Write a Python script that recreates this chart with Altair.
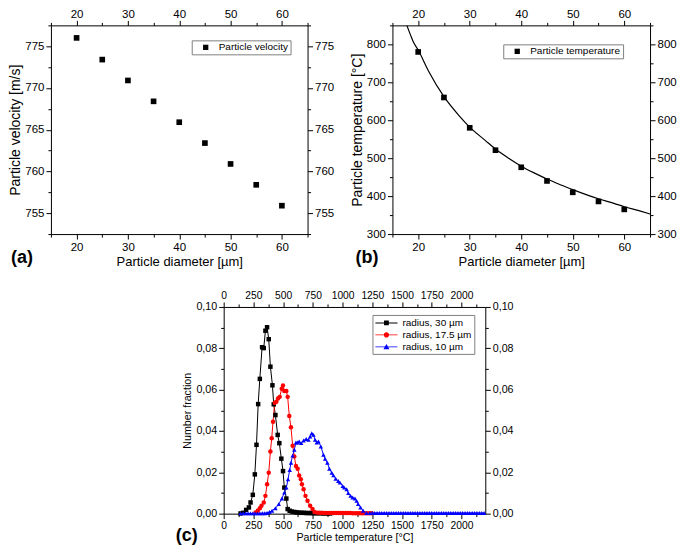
import altair as alt
import pandas as pd

FONT = "Liberation Sans"

# ---------------- panel (a) ----------------
diameter = [20, 25, 30, 35, 40, 45, 50, 55, 60]
velocity = [776.0, 773.4, 770.9, 768.4, 765.9, 763.4, 760.9, 758.4, 755.9]

# ---------------- panel (b) ----------------
temperature = [780, 660, 580, 521, 476, 440, 410, 386, 365]
fit_diameter = [17.8, 18.5, 19, 20, 22, 25, 28, 30, 33, 35, 38, 40, 43, 45, 48, 50, 53, 55, 58, 60, 63, 65]
fit_temperature = [850, 825, 808, 785, 730, 662, 611, 582, 547, 524, 496, 479, 458, 445, 428, 417, 402, 393, 381, 372, 361, 353]

# ---------------- panel (c) ----------------
series_names = ["radius, 30 µm", "radius, 17.5 µm", "radius, 10 µm"]
series_colors = ["#000000", "#ff0000", "#0000ff"]
series_shapes = ["square", "circle", "triangle-up"]

black_T = [142, 164, 189, 212, 226, 245, 262, 276, 290, 304, 323, 337, 351, 365, 379, 393, 410, 421, 435, 454,
           468, 485, 499, 510, 527, 538, 555, 574, 595, 615, 635, 655, 675, 695, 715, 735, 755, 775, 795, 815,
           835, 855, 875, 895]
black_f = [0.0001, 0.0004, 0.0018, 0.003, 0.0054, 0.0091, 0.019, 0.0333, 0.053, 0.0652, 0.0805, 0.0801, 0.0885,
           0.0902, 0.0844, 0.0711, 0.0621, 0.0529, 0.0477, 0.0381, 0.0341, 0.0266, 0.0206, 0.0126, 0.0073, 0.0022,
           0.0014, 0.0010, 0.0008, 0.0006, 0.0005, 0.0004, 0.0004, 0.0003, 0.0003, 0.0003, 0.0002, 0.0002, 0.0002,
           0.0002, 0.0001, 0.0001, 0.0001, 0.0001]

red_T = [268, 287, 304, 318, 337, 351, 365, 379, 393, 404, 415, 429, 443, 457, 471, 488, 499, 510, 527, 538,
         552, 566, 580, 594, 608, 622, 635, 649, 658, 672, 688, 705, 727, 747, 764, 785, 805, 825, 845, 865,
         885, 905, 925, 945, 965, 985, 1005, 1025, 1045, 1065, 1085, 1105, 1125, 1145, 1165, 1185, 1205, 1225, 1245]
red_f = [0.0006, 0.0014, 0.0026, 0.0038, 0.0054, 0.0086, 0.0142, 0.0198, 0.0301, 0.0365, 0.0445, 0.0536, 0.0541,
         0.0557, 0.0565, 0.0604, 0.0620, 0.0593, 0.0593, 0.0565, 0.0472, 0.0418, 0.0329, 0.0277, 0.0230, 0.0217,
         0.0185, 0.0166, 0.0142, 0.0118, 0.0086, 0.0062, 0.0038, 0.0022, 0.0008, 0.0005, 0.0004, 0.0004, 0.0003,
         0.0003, 0.0003, 0.0003, 0.0003, 0.0003, 0.0003, 0.0003, 0.0003, 0.0003, 0.0003, 0.0003, 0.0002, 0.0002,
         0.0002, 0.0002, 0.0002, 0.0002, 0.0002, 0.0002, 0.0002]

blue_T = [142, 165, 185, 205, 225, 245, 265, 285, 305, 325, 345, 365, 385, 407, 435, 463, 490, 510, 527, 541,
          555, 566, 580, 594, 608, 622, 635, 652, 672, 694, 713, 727, 741, 755, 769, 783, 797, 817, 839, 853,
          872, 889, 909, 923, 942, 964, 978, 1001, 1014, 1034, 1048, 1067, 1084, 1104, 1118, 1131, 1151, 1173,
          1201, 1229, 1250, 1270, 1290, 1310, 1330, 1350, 1370, 1390, 1410, 1430, 1450, 1470, 1490, 1510, 1530,
          1550, 1570, 1590, 1610, 1630, 1650, 1670, 1690, 1710, 1730, 1750, 1770, 1790, 1810, 1830, 1850, 1870,
          1890, 1910, 1930, 1950, 1970, 1990, 2010, 2030, 2050, 2070, 2090, 2110, 2130, 2150, 2170, 2190]
blue_f = [0.0001, 0.0001, 0.0001, 0.0001, 0.0001, 0.0001, 0.0001, 0.0001, 0.0001, 0.0002, 0.0002, 0.0003, 0.0008,
          0.0014, 0.0026, 0.0046, 0.0073, 0.0102, 0.0126, 0.0166, 0.0211, 0.0246, 0.0281, 0.0309, 0.0344, 0.0344,
          0.0349, 0.0341, 0.0354, 0.0361, 0.0357, 0.0373, 0.0389, 0.0381, 0.0357, 0.0344, 0.0349, 0.0325, 0.0285,
          0.0265, 0.0246, 0.0217, 0.0198, 0.0185, 0.0169, 0.0158, 0.0150, 0.0134, 0.0126, 0.0118, 0.0099, 0.0086,
          0.0078, 0.0073, 0.0062, 0.0046, 0.0030, 0.0014, 0.0003, 0.0003, 0.0003, 0.0003, 0.0003, 0.0003, 0.0003,
          0.0003, 0.0003, 0.0003, 0.0003, 0.0003, 0.0003, 0.0003, 0.0003, 0.0003, 0.0003, 0.0003, 0.0003, 0.0003,
          0.0003, 0.0003, 0.0003, 0.0003, 0.0003, 0.0003, 0.0003, 0.0003, 0.0003, 0.0003, 0.0003, 0.0003, 0.0003,
          0.0003, 0.0003, 0.0003, 0.0003, 0.0003, 0.0003, 0.0003, 0.0003, 0.0003, 0.0003, 0.0003, 0.0003, 0.0003,
          0.0003, 0.0003, 0.0003, 0.0003]

# tick values
diam_ticks = [15, 20, 25, 30, 35, 40, 45, 50, 55, 60, 65]
vel_ticks = [752.5, 755, 757.5, 760, 762.5, 765, 767.5, 770, 772.5, 775, 777.5]
temp_ticks = [300, 350, 400, 450, 500, 550, 600, 650, 700, 750, 800, 850]
tc_ticks = [0, 125, 250, 375, 500, 625, 750, 875, 1000, 1125, 1250, 1375, 1500, 1625, 1750, 1875, 2000, 2125]
frac_ticks = [0, 0.01, 0.02, 0.03, 0.04, 0.05, 0.06, 0.07, 0.08, 0.09, 0.10]


def axis(orient, values, major_test, label_expr, title=None, label_size=11.5, title_size=13,
         label_pad=2, title_pad=3):
    kw = dict(orient=orient, values=values, labelExpr=label_expr,
              tickSize={"condition": {"test": major_test, "value": 5}, "value": 3},
              labelFontSize=label_size, labelPadding=label_pad, labelOverlap=False, labelFlush=False,
              grid=False, domainColor="black", tickColor="black", labelColor="black", labelFont=FONT,
              domainWidth=1, tickWidth=1)
    if title:
        kw.update(title=title, titleFontSize=title_size, titleFont=FONT, titleFontWeight="normal",
                  titleColor="black", titlePadding=title_pad)
    else:
        kw["title"] = None
    return alt.Axis(**kw)


def panel_label(text, dx, offset):
    return alt.TitleParams(text=text, orient="bottom", anchor="start", frame="group", dx=dx, offset=offset,
                           fontSize=18, fontWeight="bold", font=FONT, color="black")


def box_legend(x, y):
    return alt.Legend(title=None, orient="none", legendX=x, legendY=y, strokeColor="#808080", fillColor="white",
                      padding=2, labelFont=FONT, labelFontSize=10, labelColor="black", symbolType="square",
                      symbolSize=28, symbolStrokeWidth=0, symbolOffset=7, labelOffset=8)


diam_test = "datum.value % 10 == 0"
diam_label = "(datum.value % 10 == 0 && datum.value >= 20 && datum.value <= 60) ? datum.label : ''"

# ---------------- build (a) ----------------
A_W, TOP_H = 257, 209
df_a = pd.DataFrame({"d": diameter, "v": velocity, "s": "Particle velocity"})
xa = alt.Scale(domain=[15, 65], nice=False, zero=False)
ya = alt.Scale(domain=[752.5, 777.5], nice=False, zero=False)
vel_test = "datum.value % 5 == 0"
vel_label = "datum.value % 5 == 0 ? datum.label : ''"

pts_a = alt.Chart(df_a).mark_point(filled=True, shape="square", size=32, opacity=1).encode(
    x=alt.X("d:Q", scale=xa, axis=axis("bottom", diam_ticks, diam_test, diam_label, "Particle diameter [µm]")),
    y=alt.Y("v:Q", scale=ya, axis=axis("left", vel_ticks, vel_test, vel_label, "Particle velocity [m/s]",
                                       title_size=14, title_pad=2)),
    color=alt.Color("s:N", scale=alt.Scale(range=["black"]), legend=box_legend(A_W - 18 - 98, 15)),
)
frame_a = alt.Chart(df_a).mark_point(opacity=0).encode(
    x=alt.X("d:Q", scale=xa, axis=axis("top", diam_ticks, diam_test, diam_label, label_pad=1)),
    y=alt.Y("v:Q", scale=ya, axis=axis("right", vel_ticks, vel_test, vel_label)),
)
panel_a = alt.layer(pts_a, frame_a).resolve_axis(x="independent", y="independent").properties(
    width=A_W, height=TOP_H, title=panel_label("(a)", -40, -20))

# ---------------- build (b) ----------------
B_W = 258
df_b = pd.DataFrame({"d": diameter, "t": temperature, "s": "Particle temperature"})
df_fit = pd.DataFrame({"d": fit_diameter, "t": fit_temperature})
xb = alt.Scale(domain=[15, 65], nice=False, zero=False)
yb = alt.Scale(domain=[300, 850], nice=False, zero=False)
temp_test = "datum.value % 100 == 0"
temp_label = "(datum.value % 100 == 0 && datum.value <= 800) ? datum.label : ''"

fit_b = alt.Chart(df_fit).mark_line(color="black", strokeWidth=1.2, interpolate="monotone", clip=True).encode(
    x=alt.X("d:Q", scale=xb, axis=axis("bottom", diam_ticks, diam_test, diam_label, "Particle diameter [µm]")),
    y=alt.Y("t:Q", scale=yb, axis=axis("left", temp_ticks, temp_test, temp_label, "Particle temperature [°C]",
                                       title_size=14, title_pad=2)),
)
pts_b = alt.Chart(df_b).mark_point(filled=True, shape="square", size=32, opacity=1).encode(
    x=alt.X("d:Q", scale=xb, axis=None),
    y=alt.Y("t:Q", scale=yb, axis=None),
    color=alt.Color("s:N", scale=alt.Scale(range=["black"]), legend=box_legend(B_W - 36 - 117 + 6, 19)),
)
frame_b = alt.Chart(df_b).mark_point(opacity=0).encode(
    x=alt.X("d:Q", scale=xb, axis=axis("top", diam_ticks, diam_test, diam_label, label_pad=1)),
    y=alt.Y("t:Q", scale=yb, axis=axis("right", temp_ticks, temp_test, temp_label)),
)
panel_b = alt.layer(fit_b, pts_b, frame_b).resolve_axis(x="independent", y="independent").properties(
    width=B_W, height=TOP_H, title=panel_label("(b)", -37, -20))

# ---------------- build (c) ----------------
C_W, C_H = 262, 207
rows = []
for name, Ts, fs in [(series_names[0], black_T, black_f), (series_names[1], red_T, red_f),
                     (series_names[2], blue_T, blue_f)]:
    for t, f in zip(Ts, fs):
        rows.append({"T": t, "f": f, "series": name})
df_c = pd.DataFrame(rows)

xc = alt.Scale(domain=[0, 2200], nice=False, zero=False)
yc = alt.Scale(domain=[0, 0.1], nice=False, zero=False)
tc_test = "datum.value % 250 == 0"
tc_label = "datum.value % 250 == 0 ? format(datum.value, 'd') : ''"
fr_test = "round(datum.value * 100) % 2 == 0"
fr_label = "round(datum.value * 100) % 2 == 0 ? replace(format(datum.value, '.2f'), '.', ',') : ''"

line_path = "M-1.85,-0.075L1.85,-0.075L1.85,0.075L-1.85,0.075Z "
legend_paths = [
    line_path + "M-0.4,-0.4L0.4,-0.4L0.4,0.4L-0.4,0.4Z",
    line_path + "M-0.44,0A0.44,0.44 0 1,1 0.44,0A0.44,0.44 0 1,1 -0.44,0Z",
    line_path + "M0,-0.5L0.5,0.38L-0.5,0.38Z",
]

color_c = alt.Scale(domain=series_names, range=series_colors)

lines_c = alt.Chart(df_c).mark_line(strokeWidth=1).encode(
    x=alt.X("T:Q", scale=xc, axis=axis("bottom", tc_ticks, tc_test, tc_label, "Particle temperature [°C]",
                                       label_size=10.3, title_size=10.7, title_pad=2)),
    y=alt.Y("f:Q", scale=yc, axis=axis("left", frac_ticks, fr_test, fr_label, "Number fraction",
                                       label_size=10.7, title_size=10.7, title_pad=3)),
    color=alt.Color("series:N", scale=color_c, legend=None),
)
pts_c = alt.Chart(df_c).mark_point(filled=True, size=20, opacity=1).encode(
    x=alt.X("T:Q", scale=xc, axis=None),
    y=alt.Y("f:Q", scale=yc, axis=None),
    color=alt.Color("series:N", scale=color_c, legend=None),
    shape=alt.Shape("series:N", scale=alt.Scale(domain=series_names, range=series_shapes), legend=None),
)
leg_c_def = alt.Legend(title=None, orient="none", legendX=149, legendY=8, strokeColor="#808080",
                       fillColor="white", padding=2, labelFont=FONT, labelFontSize=10, labelColor="black",
                       symbolSize=144, symbolStrokeWidth=0, symbolOffset=6, labelOffset=10, rowPadding=1)
legend_c = alt.Chart(df_c).transform_filter("false").mark_point(filled=True, opacity=1).encode(
    color=alt.Color("series:N", scale=alt.Scale(domain=series_names, range=series_colors), legend=leg_c_def),
    shape=alt.Shape("series:N", scale=alt.Scale(domain=series_names, range=legend_paths), legend=leg_c_def),
)
frame_c = alt.Chart(df_c).mark_point(opacity=0).encode(
    x=alt.X("T:Q", scale=xc, axis=axis("top", tc_ticks, tc_test, tc_label, label_size=10.3, label_pad=1)),
    y=alt.Y("f:Q", scale=yc, axis=axis("right", frac_ticks, fr_test, fr_label, label_size=10.7)),
)
panel_c = alt.layer(lines_c, pts_c, frame_c, legend_c).resolve_scale(
    color="independent", shape="independent").resolve_axis(x="independent", y="independent").properties(
    width=C_W, height=C_H, title=panel_label("(c)", -48, -16))

spacer = alt.Chart(pd.DataFrame({"z": [0]})).mark_point(opacity=0, size=1).encode(
    x=alt.X("z:Q", axis=None, scale=alt.Scale(domain=[0, 1])),
    y=alt.Y("z:Q", axis=None, scale=alt.Scale(domain=[0, 1]))).properties(width=88, height=C_H)

top_row = alt.hconcat(panel_a, panel_b, spacing=85, bounds="flush").resolve_scale(
    color="independent", shape="independent")
bottom_row = alt.hconcat(spacer, panel_c, spacing=85, bounds="flush").resolve_scale(
    color="independent", shape="independent")
chart = alt.vconcat(top_row, bottom_row, spacing=22, bounds="full").resolve_scale(
    color="independent", shape="independent").properties(padding=0).configure_view(stroke=None)

chart.save("out.html", embed_options={"renderer": "svg", "actions": False})
